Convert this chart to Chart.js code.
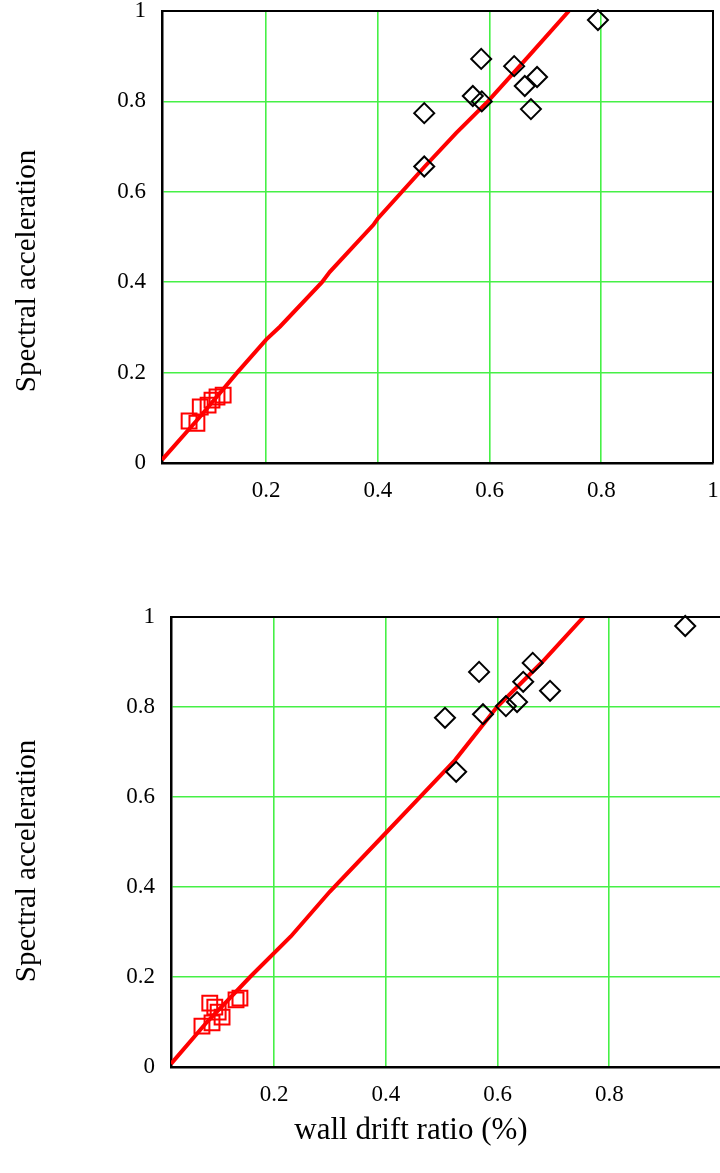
<!DOCTYPE html>
<html>
<head>
<meta charset="utf-8">
<script src="https://cdn.jsdelivr.net/npm/chart.js@4/dist/chart.umd.min.js"></script>
<style>
  html, body { margin: 0; padding: 0; background: #fff; overflow: hidden; }
  #wrap { position: relative; width: 720px; height: 1173px; overflow: hidden; }
  #top { position: absolute; left: 0; top: 0; }
  #bottom { position: absolute; left: 0; top: 560px; }
</style>
</head>
<body>
<div id="wrap">
  <canvas id="top" width="720" height="520"></canvas>
  <canvas id="bottom" width="740" height="613"></canvas>
</div>
<script>
// ---- data ----
const yTitle = 'Spectral acceleration';
const xTitle = 'wall drift ratio (%)';
const yTicks = [0, 0.2, 0.4, 0.6, 0.8, 1];
const xTicksTop = [0.2, 0.4, 0.6, 0.8, 1];
const xTicksBottom = [0.2, 0.4, 0.6, 0.8];

// top panel
const topLineX = [0.0135, 0.08, 0.148, 0.2, 0.225, 0.3, 0.314, 0.392, 0.4, 0.484, 0.54, 0.597, 0.67, 0.742];
const topLineY = [0.007, 0.1, 0.2, 0.273, 0.302, 0.4, 0.423, 0.527, 0.541, 0.656, 0.73, 0.8, 0.9, 1.0];
const topDiamondX = [0.794, 0.585, 0.644, 0.685, 0.663, 0.570, 0.586, 0.674, 0.483, 0.483];
const topDiamondY = [0.980, 0.894, 0.878, 0.854, 0.834, 0.812, 0.800, 0.783, 0.774, 0.656];
const topSquareX = [0.062, 0.076, 0.082, 0.096, 0.103, 0.112, 0.123];
const topSquareY = [0.093, 0.088, 0.124, 0.128, 0.139, 0.146, 0.150];

// bottom panel
const botLineX = [0.0156, 0.08, 0.157, 0.23, 0.3, 0.4, 0.456, 0.524, 0.599, 0.68, 0.754];
const botLineY = [0.007, 0.1, 0.2, 0.29, 0.39, 0.52, 0.593, 0.682, 0.8, 0.9, 1.0];
const botDiamondX = [0.936, 0.663, 0.567, 0.646, 0.694, 0.635, 0.615, 0.574, 0.506, 0.526];
const botDiamondY = [0.980, 0.898, 0.878, 0.856, 0.836, 0.811, 0.802, 0.784, 0.776, 0.656];
const botSquareX = [0.071, 0.089, 0.085, 0.094, 0.100, 0.107, 0.132, 0.139];
const botSquareY = [0.091, 0.098, 0.142, 0.133, 0.122, 0.111, 0.149, 0.153];

const GREEN = 'rgb(70,240,70)';
const RED = '#ff0000';
const SERIF = '"Liberation Serif", "Times New Roman", serif';

const pts = (xs, ys) => xs.map((x, i) => ({x: x, y: ys[i]}));

// frame on top / right + free text captions
const frameAndText = {
  id: 'frameAndText',
  afterDraw(chart, args, opts) {
    const ctx = chart.ctx, a = chart.chartArea;
    ctx.save();
    ctx.strokeStyle = '#000';
    ctx.lineWidth = 2;
    ctx.beginPath();
    ctx.moveTo(a.left, a.top);
    ctx.lineTo(a.right, a.top);
    ctx.lineTo(a.right, a.bottom);
    ctx.stroke();
    ctx.fillStyle = '#000';
    ctx.textAlign = 'center';
    ctx.textBaseline = 'middle';
    (opts.items || []).forEach(t => {
      ctx.save();
      ctx.font = t.size + 'px ' + SERIF;
      ctx.translate(t.x, t.y);
      if (t.rot) ctx.rotate(t.rot);
      ctx.fillText(t.text, 0, 0);
      ctx.restore();
    });
    ctx.restore();
  }
};

function noOverflow(s) {
  s.paddingLeft = 0; s.paddingRight = 0; s.paddingTop = 0; s.paddingBottom = 0;
}

function makeChart(id, o) {
  const tickFont = {family: SERIF, size: 23, lineHeight: 0.9};
  return new Chart(document.getElementById(id).getContext('2d'), {
    type: 'scatter',
    data: {
      datasets: [
        {
          type: 'line', data: pts(o.lineX, o.lineY), showLine: true,
          borderColor: RED, borderWidth: 4, pointRadius: 0, tension: 0, order: 2
        },
        {
          data: pts(o.dx, o.dy), pointStyle: 'rectRot', pointRadius: 10,
          borderColor: '#000', borderWidth: 2, backgroundColor: 'rgba(0,0,0,0)', order: 1, clip: false
        },
        {
          data: pts(o.sx, o.sy), pointStyle: 'rect', pointRadius: 10.5,
          borderColor: RED, borderWidth: 2, backgroundColor: 'rgba(0,0,0,0)', order: 1, clip: false
        }
      ]
    },
    options: {
      responsive: false,
      animation: false,
      devicePixelRatio: 1,
      layout: {autoPadding: false, padding: {top: o.padTop, right: o.padRight, left: 0, bottom: 0}},
      plugins: {
        legend: {display: false},
        tooltip: {enabled: false},
        frameAndText: {items: o.captions}
      },
      scales: {
        x: {
          type: 'linear', min: o.xMin, max: 1,
          afterBuildTicks: s => { s.ticks = o.xTicks.map(v => ({value: v})); },
          afterFit: s => { s.height = o.xAxisHeight; noOverflow(s); },
          grid: {color: GREEN, lineWidth: 1.6, drawTicks: false},
          border: {color: '#000', width: 2.5},
          ticks: {color: '#000', font: tickFont, padding: 18, maxRotation: 0,
                  callback: v => String(+v.toFixed(2))}
        },
        y: {
          type: 'linear', min: 0, max: 1,
          afterBuildTicks: s => { s.ticks = yTicks.map(v => ({value: v})); },
          afterFit: s => { s.width = o.yAxisWidth; noOverflow(s); },
          grid: {
            color: c => (c.tick && (c.tick.value === 0 || c.tick.value === 1)) ? 'rgba(0,0,0,0)' : GREEN,
            lineWidth: 1.6, drawTicks: false
          },
          border: {color: '#000', width: 2.5},
          ticks: {color: '#000', font: tickFont, padding: 16,
                  callback: v => String(+v.toFixed(2))}
        }
      }
    },
    plugins: [frameAndText]
  });
}

makeChart('top', {
  lineX: topLineX, lineY: topLineY, dx: topDiamondX, dy: topDiamondY, sx: topSquareX, sy: topSquareY,
  xMin: 0.0135, xTicks: xTicksTop, padTop: 11, padRight: 7, xAxisHeight: 57, yAxisWidth: 162,
  captions: [{text: yTitle, x: 27, y: 271, size: 29, rot: -Math.PI / 2}]
});

makeChart('bottom', {
  lineX: botLineX, lineY: botLineY, dx: botDiamondX, dy: botDiamondY, sx: botSquareX, sy: botSquareY,
  xMin: 0.0156, xTicks: xTicksBottom, padTop: 57, padRight: 19, xAxisHeight: 106, yAxisWidth: 171,
  captions: [
    {text: yTitle, x: 27, y: 301, size: 29, rot: -Math.PI / 2},
    {text: xTitle, x: 411, y: 571, size: 31}
  ]
});
</script>
</body>
</html>
